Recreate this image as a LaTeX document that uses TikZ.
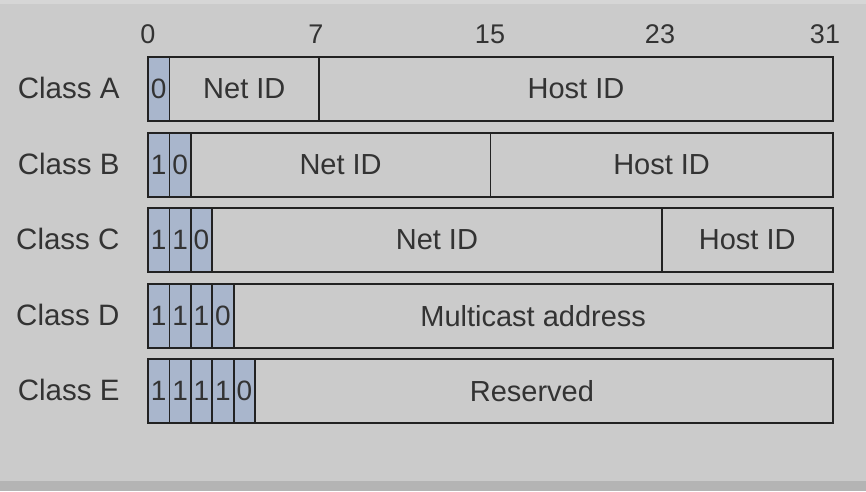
\documentclass[tikz,border=0pt]{standalone}
\usepackage{fontspec}
\setmainfont{Liberation Sans}
\usepackage{xcolor}
\usetikzlibrary{positioning}
\definecolor{panelgray}{HTML}{CBCBCB}
\definecolor{stripgray}{HTML}{B4B4B4}
\definecolor{edgegray}{HTML}{D6D6D6}
\definecolor{bitblue}{HTML}{A9B6CC}
\definecolor{linegray}{HTML}{222222}
\definecolor{textgray}{HTML}{333333}
\tikzset{
  bit box/.style={
    fill=bitblue,
    draw=linegray,
    line width=1.8pt,
    minimum width=21.4pt,
    minimum height=64pt,
    inner sep=0pt,
    outer sep=0pt,
    text=textgray,
    font=\fontsize{28}{28}\selectfont,
  },
  field box/.style={
    draw=linegray,
    line width=1.8pt,
    minimum width={#1*21.4pt},
    minimum height=64pt,
    inner sep=0pt,
    outer sep=0pt,
    text=textgray,
    font=\fontsize{29}{29}\selectfont,
  },
  class label/.style={
    anchor=east,
    text=textgray,
    font=\fontsize{29.5}{29.5}\selectfont,
  },
  bit index/.style={
    text=textgray,
    font=\fontsize{27}{27}\selectfont,
  }
}

\begin{document}
\begin{tikzpicture}[x=1pt, y=-1pt, node distance=0pt]
    \fill[panelgray] (0,0) rectangle (866,491);
    \fill[edgegray] (0,0) rectangle (866,4);
    \fill[stripgray] (0,481) rectangle (866,491);
    \useasboundingbox (0,0) rectangle (866,491);

    % bit positions
    \foreach \pos/\num in {148/0, 316/7, 490/15, 660/23, 825/31}
      \node [bit index] (idx\num) at (\pos,34) {\num};

    % class A
    \node [bit box, anchor=north west] (a0) at (148,57) {0};
    \node [field box=7, right=of a0] (anet) {Net ID};
    \node [field box=24, right=of anet] (ahost) {Host ID};
    \node [class label] (lA) at (123,88) {Class A};

    % class B
    \node [bit box, anchor=north west] (b0) at (148,133) {1};
    \node [bit box, right=of b0] (b1) {0};
    \node [field box=14, right=of b1] (bnet) {Net ID};
    \node [field box=16, right=of bnet] (bhost) {Host ID};
    \node [class label] (lB) at (123,164) {Class B};

    % class C
    \node [bit box, anchor=north west] (c0) at (148,208) {1};
    \node [bit box, right=of c0] (c1) {1};
    \node [bit box, right=of c1] (c2) {0};
    \node [field box=21, right=of c2] (cnet) {Net ID};
    \node [field box=8, right=of cnet] (chost) {Host ID};
    \node [class label] (lC) at (123,239) {Class C};

    % class D
    \node [bit box, anchor=north west] (d0) at (148,284) {1};
    \node [bit box, right=of d0] (d1) {1};
    \node [bit box, right=of d1] (d2) {1};
    \node [bit box, right=of d2] (d3) {0};
    \node [field box=28, right=of d3] (dmc) {Multicast address};
    \node [class label] (lD) at (123,315) {Class D};

    % class E
    \node [bit box, anchor=north west] (e0) at (148,359) {1};
    \node [bit box, right=of e0] (e1) {1};
    \node [bit box, right=of e1] (e2) {1};
    \node [bit box, right=of e2] (e3) {1};
    \node [bit box, right=of e3] (e4) {0};
    \node [field box=27, right=of e4] (eres) {Reserved\hspace*{24pt}};
    \node [class label] (lE) at (123,390) {Class E};
\end{tikzpicture}
\end{document}
